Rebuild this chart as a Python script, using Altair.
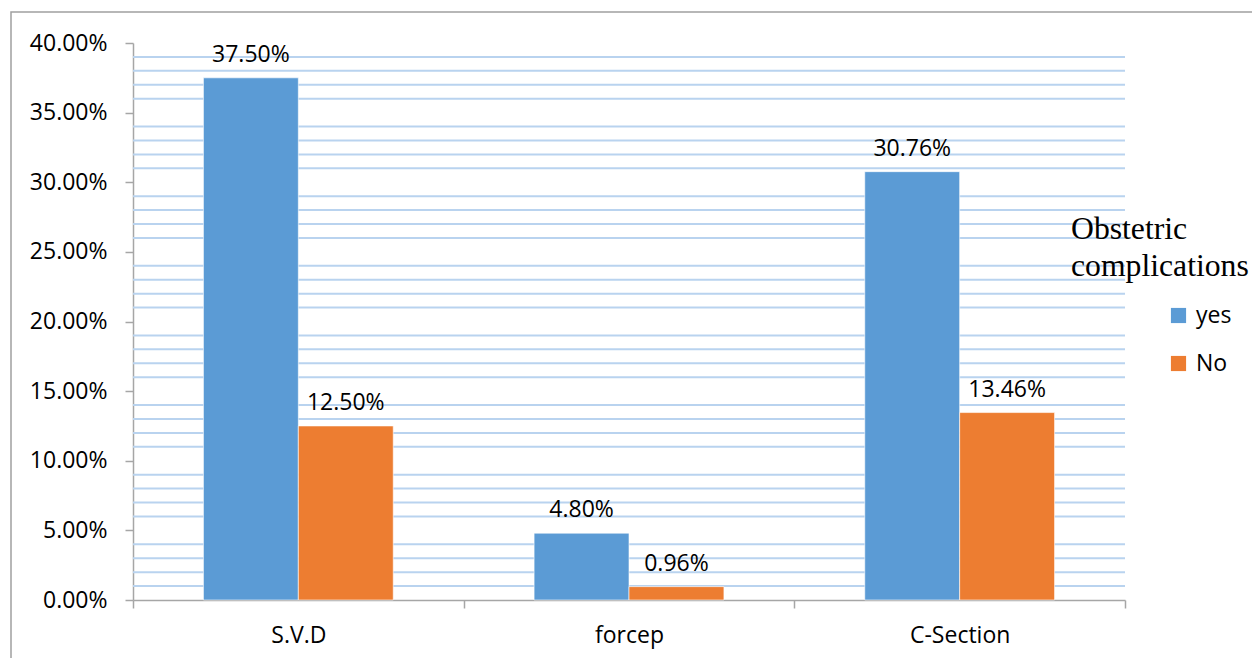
import altair as alt
import pandas as pd

# Delivery mode vs. obstetric complications
categories = ["S.V.D", "forcep", "C-Section"]
groups = ["yes", "No"]
yes_values = [0.3750, 0.0480, 0.3076]
no_values = [0.1250, 0.0096, 0.1346]

y_ticks = [i / 100 for i in range(0, 41, 5)]
minor_grid = [i / 100 for i in range(1, 40) if i % 5 != 0]

legend_title = ["Obstetric", "complications"]

BLUE = "#5B9BD5"
ORANGE = "#ED7D31"
AXIS_GRAY = "#A6A6A6"
GRID_BLUE = "#B9D3EF"
FONT = "Open Sans"
FS = 23

rows = []
for i, c in enumerate(categories):
    rows.append({"cat": c, "grp": "yes", "val": yes_values[i]})
    rows.append({"cat": c, "grp": "No", "val": no_values[i]})
df = pd.DataFrame(rows)

grid_df = pd.DataFrame({"val": minor_grid})
title_df = pd.DataFrame({"t": ["\n".join(legend_title)]})
frame_df = pd.DataFrame({"k": [0]})

y_scale = alt.Scale(domain=[0, 0.4], nice=False, zero=True)
y_axis = alt.Axis(
    title=None,
    values=y_ticks,
    format=".2%",
    grid=False,
    tickSize=8,
    labelPadding=18,
    labelFont=FONT,
    labelFontSize=FS,
    labelColor="black",
    domainColor=AXIS_GRAY,
    tickColor=AXIS_GRAY,
    domainWidth=1.5,
    tickWidth=1.5,
)
x_enc = alt.X(
    "cat:N",
    sort=categories,
    scale=alt.Scale(paddingInner=0, paddingOuter=0),
    axis=alt.Axis(
        title=None,
        labelAngle=0,
        tickBand="extent",
        tickSize=8,
        labelPadding=16,
        labelFont=FONT,
        labelFontSize=FS,
        labelColor="black",
        domainColor=AXIS_GRAY,
        tickColor=AXIS_GRAY,
        domainWidth=1.5,
        tickWidth=1.5,
    ),
)
xo_enc = alt.XOffset(
    "grp:N", sort=groups, scale=alt.Scale(paddingOuter=0.742, paddingInner=0)
)

# light minor gridlines at every 1% (skipping the 5% steps)
grid = alt.Chart(grid_df).mark_rule(color=GRID_BLUE, strokeWidth=2).encode(
    y=alt.Y("val:Q", scale=y_scale, axis=y_axis)
)

bars = alt.Chart(df).mark_bar(stroke="white", strokeWidth=0.6).encode(
    x=x_enc,
    xOffset=xo_enc,
    y=alt.Y("val:Q", scale=y_scale, axis=y_axis),
    color=alt.Color(
        "grp:N",
        sort=groups,
        scale=alt.Scale(domain=groups, range=[BLUE, ORANGE]),
        legend=alt.Legend(
            title=None,
            orient="none",
            legendX=1034,
            legendY=261,
            symbolType="square",
            symbolSize=230,
            symbolStrokeWidth=0,
            labelFont=FONT,
            labelFontSize=FS,
            labelColor="black",
            labelOffset=6,
            rowPadding=24,
            padding=0,
        ),
    ),
)

labels = alt.Chart(df).mark_text(
    font=FONT, fontSize=FS, color="black", baseline="alphabetic", dy=-16
).encode(
    x=alt.X("cat:N", sort=categories),
    xOffset=alt.XOffset("grp:N", sort=groups),
    y=alt.Y("val:Q", scale=y_scale),
    text=alt.Text("val:Q", format=".2%"),
)

title_text = alt.Chart(title_df).mark_text(
    font="Liberation Serif",
    fontSize=31.7,
    color="black",
    align="left",
    baseline="alphabetic",
    lineBreak="\n",
    lineHeight=37,
).encode(x=alt.value(938), y=alt.value(196), text="t:N")

frame = alt.Chart(frame_df).mark_rect(
    fill=None, stroke="#A0A0A0", strokeWidth=1.5
).encode(
    x=alt.value(-122), x2=alt.value(1200), y=alt.value(-31), y2=alt.value(700)
)

chart = (
    alt.layer(grid, bars, labels, title_text, frame)
    .properties(
        width=992,
        height=557,
        autosize=alt.AutoSizeParams(type="none"),
        padding={"left": 133, "top": 43, "right": 127, "bottom": 58},
        background="white",
    )
    .configure_view(stroke=None)
)

chart.save("out.html", embed_options={"renderer": "svg", "actions": False})
